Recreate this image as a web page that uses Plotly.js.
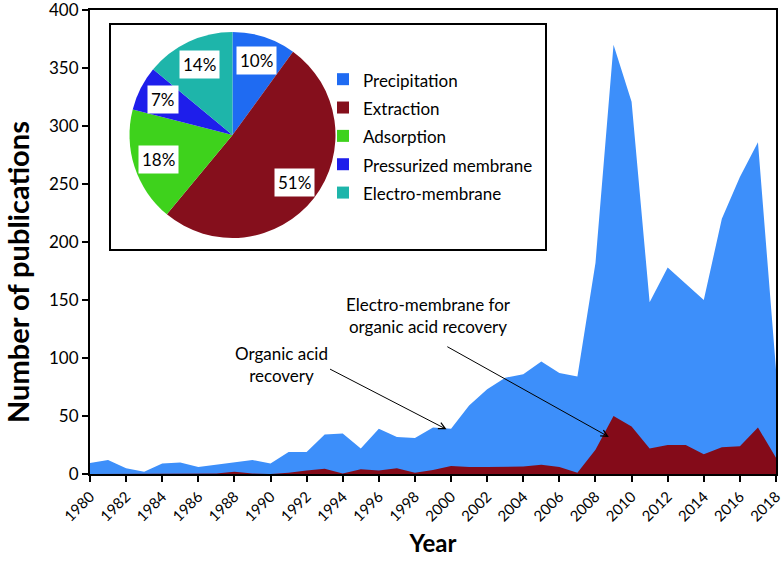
<!DOCTYPE html>
<html>
<head>
<meta charset="utf-8">
<script src="https://cdn.plot.ly/plotly-3.0.1.min.js"></script>
<style>html,body{margin:0;padding:0;background:#fff;}#chart{width:782px;height:565px;}</style>
</head>
<body>
<div id="chart"></div>
<script>
// ---- data ----
const years = [1980,1981,1982,1983,1984,1985,1986,1987,1988,1989,1990,1991,1992,1993,1994,1995,1996,1997,1998,1999,2000,2001,2002,2003,2004,2005,2006,2007,2008,2009,2010,2011,2012,2013,2014,2015,2016,2017,2018];
const organicAcid = [9.5,12,5,2,9,10,6,8,10,12,9,19,19,34,35,22,39,32,31,40,39,59,73,83,86,97,87,84,182,370,321,148,178,164,150,220,256,286,90];
const electroMembrane = [0,0,0,0,0,0,0,0.5,2,0.5,0,1,3,4.5,0.5,4,3,5,1,3.5,7,6,6,6,6.5,8,6,1,21,50,41,22,25,25,17,23,24,40,14];
const pieCategories = ['Precipitation','Extraction','Adsorption','Pressurized membrane','Electro-membrane'];
const pieShares = [10,51,18,7,14];
const pieColors = ['#1F6BF2','#850F1C','#3ED21C','#1E1EEB','#1EB5AA'];
const xTickVals = [1980,1982,1984,1986,1988,1990,1992,1994,1996,1998,2000,2002,2004,2006,2008,2010,2012,2014,2016,2018];
const xTitle = 'Year';
const yTitle = 'Number of publications';
const annoOrganic = {text:'Organic acid<br>recovery', year:1999.75, value:38.5};
const annoElectro = {text:'Electro-membrane for<br>organic acid recovery', year:2008.74, value:32};

// ---- geometry (layout only) ----
const W = 782, H = 565;
const M = {l:90, r:6, t:10, b:91};
const PW = W - M.l - M.r, PH = H - M.t - M.b;
const px2x = p => (p - M.l) / PW;
const py2y = p => (H - M.b - p) / PH;
const FONT = 'Lato, "Liberation Sans", Arial, sans-serif';

const pieCx = 232.5, pieCy = 135, pieR = 103;

const traces = [
  {type:'scatter', x:years, y:organicAcid, name:'Organic acid recovery', mode:'lines',
   fill:'tozeroy', fillcolor:'#3D8FFA', line:{width:0, color:'#3D8FFA'}, showlegend:false, hoverinfo:'x+y'},
  {type:'scatter', x:years, y:electroMembrane, name:'Electro-membrane for organic acid recovery', mode:'lines',
   fill:'tozeroy', fillcolor:'#840B19', line:{width:0, color:'#840B19'}, showlegend:false, hoverinfo:'x+y'},
  {type:'pie', labels:pieCategories.map(c => '<span style="font-size:17px">' + c + '</span>'), values:pieShares,
   marker:{colors:pieColors, line:{width:0}}, sort:false, direction:'clockwise', rotation:0,
   textinfo:'none', hoverinfo:'label+percent',
   domain:{x:[px2x(pieCx - pieR), px2x(pieCx + pieR)], y:[py2y(pieCy + pieR), py2y(pieCy - pieR)]},
   showlegend:true}
];

// pie percentage labels, positioned from the data
const total = pieShares.reduce((a,b)=>a+b,0);
const pieAnnos = [];
let cum = 0;
pieShares.forEach(v => {
  const mid = (cum + v/2) / total * 2 * Math.PI;
  cum += v;
  const r = pieR * 0.76;
  const px = pieCx + r * Math.sin(mid);
  const py = pieCy - r * Math.cos(mid);
  pieAnnos.push({xref:'paper', yref:'paper', x:px2x(px), y:py2y(py), showarrow:false,
    text: Math.round(v/total*100) + '%', font:{family:FONT, size:17, color:'#000'},
    bgcolor:'#fff', borderpad:3, xanchor:'center', yanchor:'middle'});
});

const layout = {
  width:W, height:H,
  margin:{l:M.l, r:M.r, t:M.t, b:M.b},
  paper_bgcolor:'#fff', plot_bgcolor:'#fff',
  font:{family:FONT, color:'#000'},
  xaxis:{range:[1980,2018], tickmode:'array', tickvals:xTickVals, ticktext:xTickVals.map(String),
    tickangle:-45, ticks:'outside', ticklen:6, tickwidth:2, tickcolor:'#000', ticklabeloverflow:'allow',
    showline:true, linecolor:'#000', linewidth:2, mirror:true, showgrid:false, zeroline:false,
    tickfont:{family:FONT, size:15, color:'#000'},
    title:{text:'<b>' + xTitle + '</b>', font:{family:FONT, size:24, color:'#000'}, standoff:12}},
  yaxis:{range:[0,400], dtick:50, ticks:'outside', ticklen:6, tickwidth:2, tickcolor:'#000', ticklabeloverflow:'allow',
    showline:true, linecolor:'#000', linewidth:2, mirror:true, showgrid:false, zeroline:false,
    tickfont:{family:FONT, size:17, color:'#000'},
    title:{text:''}},
  showlegend:true,
  legend:{x:px2x(323), y:py2y(60), xanchor:'left', yanchor:'top', bgcolor:'rgba(0,0,0,0)',
    font:{family:FONT, size:19.5, color:'#000'}, borderwidth:0},
  shapes:[{type:'rect', xref:'paper', yref:'paper', x0:px2x(110), x1:px2x(546), y0:py2y(250), y1:py2y(24),
    line:{color:'#000', width:2}, fillcolor:'#fff', layer:'below'}],
  annotations: pieAnnos.concat([
    {xref:'paper', yref:'paper', x:px2x(17), y:py2y(272), text:'<b>' + yTitle + '</b>', textangle:-90, showarrow:false,
     font:{family:FONT, size:29, color:'#000'}, xanchor:'center', yanchor:'middle'},
    {xref:'paper', yref:'paper', x:px2x(281), y:py2y(364), text:annoOrganic.text, showarrow:false,
     font:{family:FONT, size:17, color:'#000'}, align:'center', xanchor:'center', yanchor:'middle'},
    {xref:'paper', yref:'paper', x:px2x(428), y:py2y(315), text:annoElectro.text, showarrow:false,
     font:{family:FONT, size:17, color:'#000'}, align:'center', xanchor:'center', yanchor:'middle'},
    {x:annoOrganic.year, y:annoOrganic.value, xref:'x', yref:'y', text:'', showarrow:true,
     ax:-118, ay:-61, arrowhead:5, arrowsize:1.3, arrowwidth:1, arrowcolor:'#000'},
    {x:annoElectro.year, y:annoElectro.value, xref:'x', yref:'y', text:'', showarrow:true,
     ax:-163, ay:-91, arrowhead:5, arrowsize:1.3, arrowwidth:1, arrowcolor:'#000'}
  ])
};

Plotly.newPlot('chart', traces, layout, {displayModeBar:false, staticPlot:true});
</script>
</body>
</html>
